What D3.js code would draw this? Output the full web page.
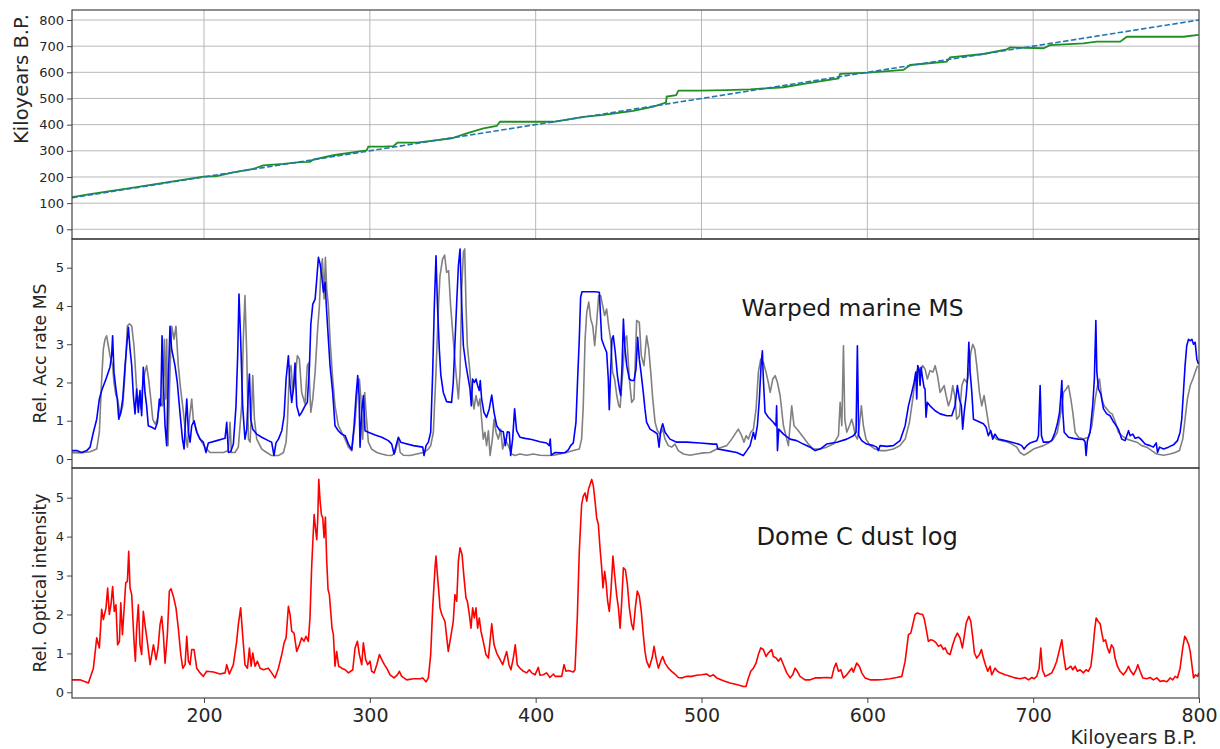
<!DOCTYPE html>
<html>
<head>
<meta charset="utf-8">
<script src="https://cdn.jsdelivr.net/npm/d3@7"></script>
<style>
  html, body { margin: 0; padding: 0; background: #fff; }
  svg { display: block; font-family: "DejaVu Sans", sans-serif; }
</style>
</head>
<body>
<svg id="chart" width="1220" height="749"></svg>
<script>
// Age model: reference (1:1) and fitted step-wise age curve, [kyr, kyr B.P.]
const referenceAge = [[120.4, 120.4], [800, 800]];
const fittedAge = [[120.4,123],[131.3,134],[139.3,142],[157.4,159],[177.5,179],[199.6,201],[207.7,203],[217.7,218],[229.8,231],[235.8,244],[247.9,250],[258.0,257],[263.9,258],[265.9,266],[278.0,283],[298.1,302],[299.1,316],[308.2,316],[314.2,318],[316.6,331],[328.3,331],[338.3,339],[349.4,348],[358.4,367],[368.5,386],[376.5,395],[378.5,411],[398.6,411],[410.7,411],[428.8,430],[440.9,437],[458.9,453],[471.0,469],[478.6,484],[479.0,507],[484.7,513],[486.1,530],[499.2,530],[515.2,532],[529.3,535],[549.4,543],[563.5,558],[582.6,577],[583.6,594],[600.7,599],[621.8,609],[625.8,628],[647.9,641],[649.9,657],[670.0,670],[684.1,688],[686.1,695],[706.2,692],[710.2,704],[730.3,711],[738.4,717],[752.5,717],[756.5,736],[790.7,736],[799.7,743]];

// Marine MS accumulation rate, original (gray) and warped (blue), [kyr, rel. rate]
const marineMS = [[119.2,0.17],[125.2,0.16],[131.3,0.19],[135.3,0.26],[136.9,0.7],[138.3,2.09],[139.3,2.87],[140.3,3.13],[141.3,3.22],[142.3,2.96],[143.3,2.7],[144.9,2.44],[145.7,2.0],[146.9,1.66],[147.9,1.57],[149.4,1.13],[151.0,1.39],[152.4,2.27],[153.8,3.48],[155.0,3.53],[156.4,3.48],[157.8,2.96],[159.0,2.09],[160.0,1.39],[161.0,1.66],[162.0,1.31],[163.0,1.92],[164.4,2.27],[165.4,2.44],[166.6,2.09],[167.9,1.57],[169.1,1.04],[170.5,0.91],[171.9,1.04],[173.5,1.48],[175.1,1.39],[176.1,3.13],[176.9,1.57],[177.5,3.13],[178.3,0.35],[179.5,2.27],[180.5,3.47],[181.9,3.13],[183.1,3.47],[184.5,2.44],[185.9,1.83],[187.6,1.22],[189.2,0.52],[190.0,0.31],[191.2,1.04],[192.6,1.57],[193.6,1.0],[194.6,0.87],[196.6,0.61],[198.6,0.44],[200.6,0.31],[203.6,0.17],[207.7,0.17],[211.7,0.17],[214.7,0.22],[215.7,0.96],[216.5,0.17],[218.7,0.17],[220.7,0.31],[222.7,1.39],[223.7,3.13],[224.7,4.27],[225.8,2.7],[226.8,0.52],[227.8,0.44],[228.8,1.39],[229.4,2.18],[230.4,1.04],[231.8,0.52],[234.8,0.26],[237.8,0.17],[240.8,0.09],[244.9,0.09],[247.9,0.17],[249.5,0.44],[250.3,0.96],[251.5,2.27],[252.5,2.44],[253.5,1.74],[254.9,2.09],[256.3,2.7],[257.5,2.61],[258.9,1.74],[260.9,1.44],[262.3,2.44],[263.1,2.51],[264.4,1.22],[265.6,1.57],[267.0,2.27],[268.4,3.31],[269.6,4.01],[270.4,4.88],[271.4,5.23],[272.4,4.18],[273.2,5.27],[274.0,4.44],[275.0,4.01],[276.0,3.13],[277.6,2.09],[279.0,1.39],[281.0,0.87],[283.0,0.7],[285.1,0.52],[287.1,0.31],[289.1,0.22],[291.1,0.96],[292.5,1.83],[293.7,2.09],[294.5,1.66],[295.7,0.52],[296.9,1.74],[297.7,1.22],[299.1,0.44],[301.1,0.26],[304.2,0.17],[307.2,0.13],[310.2,0.1],[313.2,0.09],[315.2,0.17],[317.2,0.52],[318.3,0.17],[320.2,0.1],[324.3,0.09],[328.3,0.13],[332.3,0.17],[335.3,0.26],[336.7,0.35],[338.3,0.7],[339.9,2.27],[341.4,4.01],[342.3,4.79],[343.9,5.23],[345.1,5.33],[346.3,4.88],[347.5,4.92],[348.7,4.01],[350.3,3.13],[351.9,2.27],[353.4,1.57],[354.4,2.27],[355.4,4.44],[356.4,5.4],[357.2,5.49],[358.0,4.01],[358.8,2.96],[360.0,2.44],[361.4,1.74],[362.8,1.31],[364.0,1.66],[365.4,1.39],[366.4,1.57],[367.4,1.04],[368.4,0.52],[369.4,0.7],[370.4,0.35],[371.5,0.74],[372.5,0.09],[373.9,0.52],[374.9,1.04],[376.1,0.7],[377.5,0.52],[378.9,0.78],[380.1,0.26],[381.5,0.52],[383.5,0.35],[385.5,0.13],[387.5,0.09],[390.5,0.13],[394.6,0.1],[398.6,0.13],[402.6,0.1],[406.6,0.09],[410.7,0.1],[414.7,0.13],[418.7,0.17],[422.7,0.22],[426.3,0.26],[427.7,0.52],[428.7,1.39],[429.8,3.13],[430.8,3.83],[432.0,4.1],[433.2,3.66],[434.4,3.48],[435.6,2.96],[436.8,3.57],[438.0,4.27],[439.2,4.27],[440.4,4.01],[441.6,3.75],[442.8,3.92],[444.0,3.48],[445.2,3.13],[446.4,2.27],[447.6,2.09],[448.9,1.66],[450.1,1.39],[450.9,1.35],[452.5,2.27],[453.9,3.13],[454.9,3.22],[456.5,2.09],[457.9,1.48],[459.3,1.57],[460.9,3.62],[462.5,3.57],[463.7,2.7],[465.3,2.44],[466.9,3.22],[468.2,2.87],[469.4,2.27],[470.6,1.57],[472.0,0.96],[473.4,0.74],[475.0,0.65],[476.6,0.78],[478.0,0.52],[480.0,0.35],[482.0,0.31],[484.0,0.39],[486.0,0.22],[489.1,0.13],[493.1,0.1],[497.1,0.13],[501.1,0.16],[505.1,0.17],[509.2,0.26],[512.2,0.31],[515.2,0.35],[518.2,0.52],[520.2,0.65],[522.2,0.78],[524.2,0.61],[525.6,0.44],[526.9,0.61],[528.3,0.52],[529.7,0.7],[531.3,0.78],[532.9,1.31],[534.3,2.27],[535.7,2.61],[537.3,2.53],[538.9,2.27],[540.3,2.0],[541.4,1.74],[543.0,2.09],[544.4,2.18],[545.8,2.0],[547.4,1.66],[549.4,0.87],[551.4,0.52],[552.4,0.35],[553.4,0.87],[554.4,1.39],[555.8,0.87],[558.4,0.74],[561.4,0.57],[564.4,0.39],[567.5,0.26],[571.5,0.26],[575.5,0.31],[579.5,0.39],[582.6,0.61],[583.6,1.48],[584.6,0.87],[585.6,2.96],[586.4,1.04],[587.6,0.7],[589.2,0.87],[590.6,1.04],[591.6,0.87],[592.8,0.61],[594.0,0.52],[595.2,0.87],[596.4,1.39],[597.6,0.87],[599.2,0.52],[601.7,0.35],[604.7,0.26],[607.7,0.22],[611.7,0.22],[615.7,0.26],[619.7,0.35],[622.8,0.52],[625.4,0.96],[627.4,1.57],[628.8,2.09],[630.2,2.35],[631.8,2.27],[633.4,2.44],[634.8,2.35],[636.2,2.09],[637.8,2.31],[639.5,2.27],[640.9,2.44],[642.3,2.18],[643.9,1.74],[645.1,1.83],[646.3,1.92],[647.5,1.66],[648.9,1.39],[650.3,1.57],[651.5,1.92],[652.7,1.66],[653.9,1.04],[655.5,1.13],[657.0,1.92],[658.4,2.09],[660.0,2.0],[661.2,2.27],[662.4,2.79],[663.6,3.0],[664.8,2.87],[666.0,2.44],[667.6,1.74],[669.0,1.39],[670.4,1.66],[672.0,1.22],[673.6,0.78],[675.6,0.61],[678.0,0.52],[681.1,0.48],[684.1,0.45],[687.1,0.39],[690.1,0.31],[692.1,0.17],[694.5,0.1],[697.2,0.17],[700.2,0.26],[703.2,0.31],[706.2,0.35],[709.2,0.42],[712.2,0.52],[714.6,0.7],[716.7,1.22],[718.3,1.74],[719.9,1.83],[721.3,1.92],[722.7,1.57],[723.9,1.22],[725.3,0.7],[727.3,0.57],[730.3,0.52],[733.3,0.57],[735.4,0.87],[737.4,1.57],[738.8,1.92],[740.0,2.09],[741.4,1.57],[742.8,1.39],[744.4,1.31],[746.0,1.22],[747.6,1.18],[749.3,1.0],[751.4,0.7],[753.4,0.61],[756.5,0.52],[759.5,0.48],[762.5,0.44],[765.5,0.35],[768.5,0.31],[771.5,0.22],[774.5,0.13],[778.6,0.1],[782.6,0.13],[785.6,0.17],[788.2,0.22],[790.2,0.52],[791.6,1.04],[793.0,1.57],[794.7,1.92],[796.3,2.09],[797.7,2.27],[799.1,2.44]];

const warpedMS = [[119.2,0.22],[123.2,0.22],[126.2,0.17],[129.3,0.22],[131.3,0.31],[133.3,0.7],[135.3,1.04],[136.9,1.57],[138.3,1.79],[140.9,2.09],[143.3,2.4],[144.3,2.7],[144.9,3.22],[145.7,2.27],[146.9,1.83],[147.7,1.57],[148.6,1.04],[149.8,1.22],[151.0,1.57],[152.4,2.44],[153.4,2.96],[154.4,3.44],[155.4,2.87],[156.4,2.44],[157.4,1.66],[158.4,1.18],[159.4,1.83],[160.4,1.22],[161.4,1.79],[162.4,1.13],[163.4,2.4],[164.4,1.74],[165.4,1.39],[166.4,0.87],[168.5,0.83],[170.5,0.78],[171.9,0.96],[173.1,1.57],[173.9,1.39],[174.7,3.22],[175.5,2.0],[176.5,0.87],[177.5,0.35],[178.5,2.09],[179.5,3.47],[180.5,2.87],[182.5,2.44],[183.9,2.0],[185.5,1.22],[187.0,0.52],[188.0,0.26],[188.8,0.96],[189.6,1.57],[190.6,0.7],[191.6,0.44],[192.6,0.87],[194.0,1.0],[195.6,0.7],[197.6,0.52],[199.6,0.44],[201.2,0.17],[202.6,0.42],[207.7,0.48],[212.7,0.54],[213.7,0.96],[214.7,0.17],[216.1,0.19],[217.7,0.39],[219.3,1.39],[220.3,2.7],[221.1,4.31],[222.1,3.13],[223.3,1.39],[224.7,0.52],[225.8,0.78],[226.8,1.83],[227.4,2.22],[228.2,1.04],[229.4,0.78],[231.8,0.65],[234.8,0.57],[238.8,0.48],[240.8,0.44],[242.2,0.09],[243.4,0.42],[244.9,0.52],[246.9,0.74],[248.3,1.13],[249.5,2.09],[250.9,2.7],[251.9,1.92],[252.9,1.48],[253.9,1.83],[254.9,2.51],[255.9,1.39],[257.5,1.13],[258.9,1.22],[260.9,1.39],[262.3,1.48],[263.6,2.44],[264.4,3.51],[265.6,4.05],[267.0,4.18],[268.0,4.7],[269.0,5.27],[270.0,5.1],[271.0,4.79],[272.0,4.36],[273.0,4.62],[274.0,3.83],[275.0,3.13],[276.0,2.44],[277.6,1.74],[279.0,0.87],[281.0,0.74],[283.0,0.65],[285.1,0.61],[287.1,0.39],[289.1,0.24],[290.5,0.87],[291.7,1.66],[292.7,2.18],[293.5,1.66],[294.1,0.31],[295.1,1.22],[296.1,1.66],[297.1,0.74],[299.1,0.7],[303.2,0.63],[307.2,0.57],[311.2,0.48],[313.2,0.39],[314.6,0.13],[315.8,0.35],[317.2,0.57],[318.6,0.44],[320.2,0.42],[326.3,0.35],[331.9,0.31],[332.7,0.09],[333.9,0.35],[335.3,0.44],[336.7,0.7],[337.9,2.27],[338.9,4.01],[339.9,5.31],[340.8,4.01],[341.9,2.87],[342.8,2.2],[344.3,1.74],[346.3,1.5],[349.3,1.48],[350.3,2.0],[352.3,4.01],[353.4,5.05],[354.4,5.49],[355.4,4.01],[356.4,2.96],[358.0,2.44],[359.4,2.09],[360.4,1.83],[361.2,1.39],[362.0,2.09],[363.0,2.0],[364.0,2.09],[365.0,1.92],[366.0,1.79],[366.6,2.05],[367.4,1.57],[368.8,1.22],[370.4,1.09],[372.0,1.31],[373.5,1.67],[374.9,1.22],[376.5,0.87],[378.5,0.74],[380.5,0.71],[381.7,0.35],[382.9,0.71],[384.1,0.7],[384.9,0.09],[386.1,0.52],[387.3,1.31],[388.5,0.74],[390.5,0.57],[393.6,0.54],[397.6,0.51],[402.6,0.45],[406.6,0.42],[408.2,0.35],[408.8,0.52],[409.4,0.1],[411.7,0.17],[414.7,0.16],[417.7,0.17],[419.7,0.24],[421.1,0.35],[422.7,0.42],[424.3,0.96],[425.3,2.09],[426.3,3.13],[427.1,4.22],[427.9,4.37],[431.8,4.37],[435.8,4.37],[438.4,4.36],[439.2,3.66],[439.8,3.13],[441.2,2.96],[442.8,2.79],[443.8,2.09],[444.4,1.29],[445.2,2.27],[446.0,3.13],[446.8,3.22],[448.0,2.79],[449.3,2.18],[450.5,1.83],[451.3,1.66],[452.1,2.44],[452.9,3.66],[453.7,2.96],[454.9,2.44],[456.5,2.09],[457.9,2.05],[459.3,2.05],[460.5,2.35],[461.5,3.18],[462.5,2.61],[463.5,2.27],[464.9,1.74],[465.9,1.31],[466.9,0.96],[469.0,0.78],[472.0,0.7],[473.4,0.65],[474.4,0.31],[475.4,0.74],[476.6,0.92],[478.0,0.7],[481.0,0.52],[485.0,0.44],[491.1,0.44],[499.1,0.42],[507.2,0.39],[509.2,0.39],[509.8,0.26],[515.2,0.22],[521.2,0.17],[525.2,0.09],[527.3,0.22],[529.3,0.35],[531.3,0.7],[532.3,0.52],[533.7,0.87],[534.9,1.57],[535.9,2.44],[536.7,2.83],[537.3,2.09],[538.3,1.22],[540.3,1.09],[543.3,0.96],[544.9,0.87],[545.3,1.39],[545.8,0.22],[546.6,0.78],[549.4,0.65],[553.4,0.52],[557.4,0.48],[561.4,0.39],[565.5,0.31],[568.5,0.22],[571.5,0.26],[575.5,0.39],[581.6,0.44],[587.6,0.52],[591.6,0.61],[593.2,0.7],[594.0,2.96],[594.8,0.61],[596.6,0.48],[599.6,0.39],[603.7,0.35],[605.7,0.31],[606.7,0.22],[607.7,0.35],[611.7,0.33],[615.7,0.35],[619.7,0.48],[622.8,0.87],[624.8,1.39],[626.8,1.74],[628.2,2.0],[629.2,2.27],[629.8,1.57],[630.4,2.44],[631.2,2.35],[631.8,1.92],[632.4,2.4],[633.4,2.09],[634.2,1.87],[634.8,1.83],[635.4,1.09],[636.2,1.48],[637.8,1.39],[640.9,1.26],[643.9,1.18],[647.9,1.13],[650.9,1.13],[652.9,1.39],[654.3,1.92],[655.5,1.57],[656.7,1.39],[657.5,0.78],[658.4,1.22],[659.6,1.66],[660.4,2.09],[661.2,3.05],[662.0,2.27],[663.0,1.74],[664.0,1.04],[666.0,1.0],[668.0,0.96],[670.0,0.92],[671.6,0.83],[673.0,0.61],[674.4,0.74],[675.6,0.52],[677.0,0.65],[679.0,0.52],[683.1,0.48],[687.1,0.44],[691.1,0.39],[693.1,0.35],[694.5,0.26],[696.1,0.35],[698.2,0.42],[700.2,0.45],[702.2,0.48],[703.2,0.61],[704.2,1.92],[705.0,0.61],[706.2,0.44],[709.2,0.44],[711.2,0.48],[713.2,0.7],[714.6,0.92],[715.9,1.22],[716.7,1.66],[717.3,2.05],[717.9,1.22],[718.7,0.7],[721.3,0.57],[724.3,0.54],[727.3,0.52],[730.3,0.51],[731.3,0.45],[731.9,0.09],[732.7,0.48],[734.3,0.7],[735.9,1.39],[736.9,2.09],[737.8,3.62],[738.4,2.27],[739.4,1.83],[740.8,1.7],[742.4,1.31],[744.4,1.18],[746.4,1.13],[748.0,1.0],[749.3,0.92],[751.4,0.78],[753.4,0.52],[755.4,0.48],[757.5,0.74],[758.5,0.61],[760.1,0.65],[761.5,0.54],[763.5,0.57],[764.9,0.52],[767.5,0.39],[770.5,0.35],[772.5,0.31],[774.2,0.42],[775.0,0.17],[776.2,0.31],[778.6,0.26],[781.6,0.31],[784.6,0.37],[787.0,0.48],[788.6,0.7],[789.6,1.04],[790.6,1.74],[791.6,2.44],[792.6,2.96],[793.7,3.13],[794.7,3.09],[795.7,3.13],[796.7,3.0],[797.7,3.05],[798.7,2.61],[799.7,2.48]];

// Dome C dust log, [kyr, rel. optical intensity]
const domeCDust = [[119.2,0.32],[125.2,0.32],[130.3,0.24],[133.3,0.62],[135.3,1.4],[136.9,1.14],[138.3,2.13],[139.3,1.87],[140.9,2.17],[141.9,2.68],[142.9,2.0],[143.9,2.25],[144.9,2.72],[145.9,2.08],[146.9,2.25],[147.9,1.22],[149.0,1.31],[149.8,2.3],[150.8,1.48],[151.8,2.13],[152.8,2.81],[153.8,2.85],[154.6,3.62],[155.4,2.68],[156.4,2.51],[157.8,1.31],[158.6,0.8],[159.4,1.65],[160.4,2.25],[161.4,1.22],[162.4,0.97],[163.4,2.08],[164.4,1.74],[165.8,1.31],[167.5,0.71],[169.5,1.22],[171.1,0.84],[172.3,1.14],[173.5,1.74],[174.5,1.95],[175.5,1.48],[176.5,0.75],[177.9,1.48],[179.1,2.6],[180.1,2.66],[181.5,2.47],[183.1,2.17],[184.5,1.65],[186.0,0.97],[187.2,0.62],[188.6,0.71],[189.6,1.44],[190.6,0.8],[191.6,0.71],[192.6,1.1],[194.0,1.1],[195.6,0.62],[197.6,0.5],[199.6,0.41],[201.6,0.54],[205.7,0.52],[209.7,0.47],[212.7,0.5],[213.7,0.71],[215.3,0.47],[217.7,0.71],[219.7,1.31],[220.7,1.74],[222.1,2.17],[223.3,1.48],[224.7,0.71],[226.2,0.62],[227.4,1.14],[228.4,0.67],[229.4,1.01],[230.8,0.67],[232.2,0.8],[233.8,0.62],[235.8,0.58],[238.8,0.62],[240.8,0.5],[242.8,0.37],[244.9,0.62],[246.9,0.97],[248.3,1.27],[249.5,1.4],[250.9,2.21],[251.9,2.0],[252.9,1.57],[254.3,1.52],[255.9,1.05],[257.5,1.22],[258.9,1.4],[260.3,1.31],[261.5,1.44],[262.9,1.31],[263.9,1.91],[264.9,3.2],[266.4,4.57],[267.2,4.22],[268.0,3.92],[268.6,4.48],[269.2,5.47],[270.0,4.91],[270.8,4.57],[271.6,4.48],[272.4,3.97],[273.2,4.5],[274.0,3.37],[274.8,2.64],[275.6,2.51],[276.4,2.08],[277.2,1.65],[278.0,1.48],[279.0,0.67],[280.0,1.05],[281.2,0.67],[283.0,0.62],[285.1,0.58],[287.1,0.5],[289.7,0.58],[291.1,1.14],[292.5,1.31],[293.7,0.97],[295.1,0.71],[296.1,1.27],[297.5,0.84],[298.7,0.71],[300.1,0.8],[301.1,0.54],[302.6,0.5],[304.2,0.71],[305.8,0.97],[307.2,0.84],[308.8,0.71],[310.2,0.62],[312.2,0.45],[314.6,0.37],[316.6,0.45],[317.8,0.54],[319.2,0.41],[322.3,0.32],[326.3,0.35],[330.3,0.35],[331.9,0.37],[333.9,0.27],[335.3,0.37],[336.7,0.97],[337.9,2.17],[339.3,3.2],[339.9,3.5],[340.9,2.94],[341.9,2.42],[342.3,2.17],[343.4,2.0],[345.3,1.82],[347.3,1.05],[348.7,1.4],[350.3,1.82],[351.3,2.51],[352.4,2.34],[353.4,3.37],[354.4,3.71],[355.6,3.54],[356.8,2.94],[358.0,2.42],[358.8,2.34],[360.0,2.0],[361.0,1.65],[362.0,2.17],[363.0,1.91],[364.0,2.17],[365.0,1.65],[366.0,1.91],[367.0,1.57],[368.4,1.31],[370.0,0.97],[371.5,0.88],[373.5,1.76],[374.9,1.22],[376.5,1.01],[378.1,0.88],[380.1,0.71],[382.5,1.05],[383.9,0.71],[385.1,0.58],[386.5,0.88],[387.7,1.22],[388.9,0.71],[390.5,0.62],[392.6,0.54],[394.6,0.5],[396.2,0.58],[397.6,0.5],[399.6,0.45],[401.6,0.64],[402.6,0.44],[404.6,0.45],[406.6,0.5],[408.6,0.38],[410.7,0.47],[411.7,0.41],[415.7,0.41],[417.1,0.71],[418.3,0.54],[419.7,0.56],[422.7,0.52],[423.7,0.58],[425.1,1.91],[426.3,3.62],[427.7,4.82],[428.7,5.04],[429.8,5.12],[430.8,4.91],[431.8,5.21],[432.8,5.34],[433.8,5.47],[434.8,5.3],[435.8,4.91],[436.8,4.48],[437.8,4.31],[438.8,3.71],[439.8,3.2],[440.6,2.68],[441.6,3.11],[442.4,2.85],[443.4,2.34],[444.4,2.08],[445.4,2.6],[446.6,3.5],[447.6,3.02],[448.9,2.47],[449.9,2.17],[450.9,1.65],[451.9,2.34],[452.9,3.2],[454.1,3.15],[455.3,2.77],[456.5,2.17],[457.9,1.74],[458.9,1.61],[460.1,2.17],[461.3,2.6],[462.5,2.47],[463.7,2.08],[464.9,1.48],[465.9,1.05],[466.9,0.8],[468.5,0.64],[470.2,0.88],[471.4,1.18],[472.6,0.88],[474.0,0.62],[475.4,0.8],[476.6,0.92],[478.0,0.75],[480.0,0.62],[482.0,0.54],[484.0,0.47],[486.0,0.38],[488.1,0.37],[491.1,0.41],[494.1,0.41],[497.1,0.44],[500.1,0.45],[503.1,0.47],[505.1,0.41],[507.2,0.45],[509.2,0.37],[513.2,0.3],[517.2,0.24],[521.2,0.2],[525.2,0.15],[526.8,0.15],[528.3,0.37],[529.7,0.54],[531.3,0.62],[532.9,0.75],[534.3,0.97],[535.7,1.14],[537.3,1.1],[538.9,0.92],[540.3,1.01],[542.3,1.1],[543.3,0.92],[545.0,0.88],[546.4,0.8],[547.8,0.88],[549.4,0.71],[551.4,0.5],[553.4,0.37],[555.0,0.45],[556.4,0.62],[557.8,0.54],[559.4,0.41],[562.4,0.32],[565.5,0.32],[568.5,0.37],[571.5,0.37],[575.5,0.38],[578.5,0.37],[579.9,0.62],[581.2,0.75],[582.6,0.54],[584.0,0.58],[585.6,0.37],[587.6,0.45],[589.2,0.54],[590.6,0.62],[591.6,0.52],[593.6,0.75],[595.2,0.67],[596.6,0.5],[598.6,0.37],[601.7,0.32],[605.7,0.32],[609.7,0.33],[613.7,0.35],[617.7,0.38],[620.8,0.41],[622.8,0.8],[624.8,1.48],[626.2,1.52],[627.4,1.74],[628.8,2.0],[630.2,2.04],[631.8,2.01],[633.4,2.0],[634.4,1.87],[635.4,1.65],[636.8,1.31],[638.2,1.35],[639.9,1.33],[641.5,1.27],[642.9,1.18],[644.3,1.22],[645.9,1.1],[646.9,1.14],[648.3,1.01],[649.9,0.97],[651.5,1.22],[652.9,1.4],[654.3,1.52],[655.9,1.4],[657.3,1.14],[658.3,1.4],[659.6,1.78],[661.2,1.95],[662.4,1.82],[663.6,1.4],[664.6,1.01],[666.0,0.88],[667.6,0.97],[668.8,1.1],[670.0,0.88],[671.2,0.71],[672.6,0.54],[674.0,0.67],[675.0,0.45],[677.0,0.62],[678.5,0.54],[680.1,0.5],[683.1,0.45],[686.1,0.41],[689.1,0.37],[692.1,0.35],[695.1,0.38],[697.2,0.32],[699.2,0.38],[700.6,0.35],[702.2,0.41],[703.6,0.62],[704.6,1.14],[705.6,0.58],[707.2,0.41],[709.2,0.45],[711.2,0.5],[712.6,0.62],[714.2,0.8],[715.9,1.1],[717.3,1.35],[718.3,0.97],[719.7,0.58],[721.3,0.62],[722.7,0.67],[723.9,0.58],[725.3,0.67],[726.7,0.54],[728.3,0.58],[730.3,0.5],[731.9,0.58],[733.3,0.54],[734.8,0.67],[736.0,1.1],[737.0,1.57],[738.0,1.91],[739.2,1.82],[740.4,1.76],[741.4,1.52],[742.4,1.31],[743.6,1.35],[744.8,1.14],[746.0,1.01],[747.2,1.22],[748.4,1.14],[749.4,0.88],[750.8,0.67],[752.4,0.54],[754.4,0.45],[756.0,0.54],[757.5,0.67],[758.9,0.54],[760.5,0.45],[762.1,0.58],[763.1,0.71],[764.5,0.54],[766.1,0.37],[768.5,0.35],[770.5,0.38],[772.5,0.32],[774.5,0.37],[776.6,0.28],[778.6,0.3],[780.6,0.27],[782.6,0.37],[784.2,0.32],[785.6,0.41],[787.0,0.37],[788.6,0.62],[790.2,1.14],[791.4,1.44],[792.6,1.35],[793.8,1.22],[794.7,1.05],[795.7,0.71],[796.7,0.37],[797.9,0.45],[799.1,0.41],[800.0,0.5]];

// Tick values
const xTicks = [200, 300, 400, 500, 600, 700, 800];
const ageTicks = [0, 100, 200, 300, 400, 500, 600, 700, 800];
const relTicks = [0, 1, 2, 3, 4, 5];

const svg = d3.select("#chart");
const left = 72, right = 1199;
const x = d3.scaleLinear().domain([120.4, 800]).range([left, right]);

const panels = [
  { id: "age", top: 10, bottom: 239, domain: [-37.1, 838.2], ticks: ageTicks,
    ylabel: "Kiloyears B.P.", ylabelSize: 19.5, ylabelX: 28, ylabelY: 79 },
  { id: "ms", top: 239, bottom: 468, domain: [-0.235, 5.75], ticks: relTicks,
    ylabel: "Rel. Acc rate MS", ylabelSize: 17.3, ylabelX: 46 },
  { id: "dust", top: 468, bottom: 698, domain: [-0.146, 5.763], ticks: relTicks,
    ylabel: "Rel. Optical intensity", ylabelSize: 17.3, ylabelX: 46 }
];

panels.forEach(p => {
  p.y = d3.scaleLinear().domain(p.domain).range([p.bottom, p.top]);
  const g = svg.append("g").attr("id", p.id);
  p.g = g;
  g.append("rect").attr("x", left).attr("y", p.top)
    .attr("width", right - left).attr("height", p.bottom - p.top).attr("fill", "#fff");
  svg.append("defs").append("clipPath").attr("id", "clip-" + p.id)
    .append("rect").attr("x", left).attr("y", p.top)
    .attr("width", right - left).attr("height", p.bottom - p.top);

  // y axis with outward ticks
  const yAxis = d3.axisLeft(p.y).tickValues(p.ticks).tickSize(5).tickPadding(3)
    .tickFormat(d3.format("d"));
  const ya = g.append("g").attr("transform", `translate(${left},0)`).call(yAxis);
  ya.select(".domain").remove();
  ya.selectAll("line").attr("stroke", "#333").attr("stroke-width", 0.9);
  ya.selectAll("text").attr("font-size", 13).attr("fill", "#262626")
    .attr("font-family", "DejaVu Sans");

  g.append("text")
    .attr("transform", `translate(${p.ylabelX},${p.ylabelY ?? (p.top + p.bottom) / 2}) rotate(-90)`)
    .attr("text-anchor", "middle").attr("font-size", p.ylabelSize).attr("fill", "#262626")
    .text(p.ylabel);
});

const line = yScale => d3.line().x(d => x(d[0])).y(d => yScale(d[1]));

// Panel 1: age model with grid
const pAge = panels[0];
const gridG = pAge.g.append("g").attr("stroke", "#b0b0b0").attr("stroke-width", 0.9);
gridG.selectAll(".gx").data(xTicks.filter(t => t < 800)).join("line")
  .attr("x1", d => x(d)).attr("x2", d => x(d)).attr("y1", pAge.top).attr("y2", pAge.bottom);
gridG.selectAll(".gy").data(ageTicks).join("line")
  .attr("x1", left).attr("x2", right).attr("y1", d => pAge.y(d)).attr("y2", d => pAge.y(d));

const ageLines = pAge.g.append("g").attr("clip-path", "url(#clip-age)");
ageLines.append("path").datum(fittedAge).attr("d", line(pAge.y))
  .attr("fill", "none").attr("stroke", "#1f8f1f").attr("stroke-width", 1.8);
ageLines.append("path").datum(referenceAge).attr("d", line(pAge.y))
  .attr("fill", "none").attr("stroke", "#1f77b4").attr("stroke-width", 1.6)
  .attr("stroke-dasharray", "5.5,2.4");

// Panel 2: marine MS
const pMS = panels[1];
const msLines = pMS.g.append("g").attr("clip-path", "url(#clip-ms)");
msLines.append("path").datum(marineMS).attr("d", line(pMS.y))
  .attr("fill", "none").attr("stroke", "#808080").attr("stroke-width", 1.6)
  .attr("stroke-linejoin", "round");
msLines.append("path").datum(warpedMS).attr("d", line(pMS.y))
  .attr("fill", "none").attr("stroke", "#0000ff").attr("stroke-width", 1.6)
  .attr("stroke-linejoin", "round");
pMS.g.append("text").attr("x", 741.5).attr("y", 315.7).attr("font-size", 23.4)
  .attr("fill", "#1a1a1a").text("Warped marine MS");

// Panel 3: Dome C dust
const pDust = panels[2];
pDust.g.append("g").attr("clip-path", "url(#clip-dust)")
  .append("path").datum(domeCDust).attr("d", line(pDust.y))
  .attr("fill", "none").attr("stroke", "#ff0000").attr("stroke-width", 1.6)
  .attr("stroke-linejoin", "round");
pDust.g.append("text").attr("x", 756.5).attr("y", 544.7).attr("font-size", 24.2)
  .attr("fill", "#1a1a1a").text("Dome C dust log");

// Bottom x axis
const xa = svg.append("g").attr("transform", `translate(0,${pDust.bottom})`)
  .call(d3.axisBottom(x).tickValues(xTicks).tickSize(5).tickPadding(6).tickFormat(d3.format("d")));
xa.select(".domain").remove();
xa.selectAll("line").attr("stroke", "#333").attr("stroke-width", 0.9);
xa.selectAll("text").attr("font-size", 19).attr("fill", "#262626")
  .attr("font-family", "DejaVu Sans");

svg.append("text").attr("x", 1197).attr("y", 744).attr("text-anchor", "end")
  .attr("font-size", 19).attr("fill", "#262626").text("Kiloyears B.P.");

// Frames drawn last so they sit above the data
panels.forEach(p => {
  svg.append("rect").attr("x", left).attr("y", p.top)
    .attr("width", right - left).attr("height", p.bottom - p.top)
    .attr("fill", "none").attr("stroke", "#333").attr("stroke-width", 1.1);
});
</script>
</body>
</html>
